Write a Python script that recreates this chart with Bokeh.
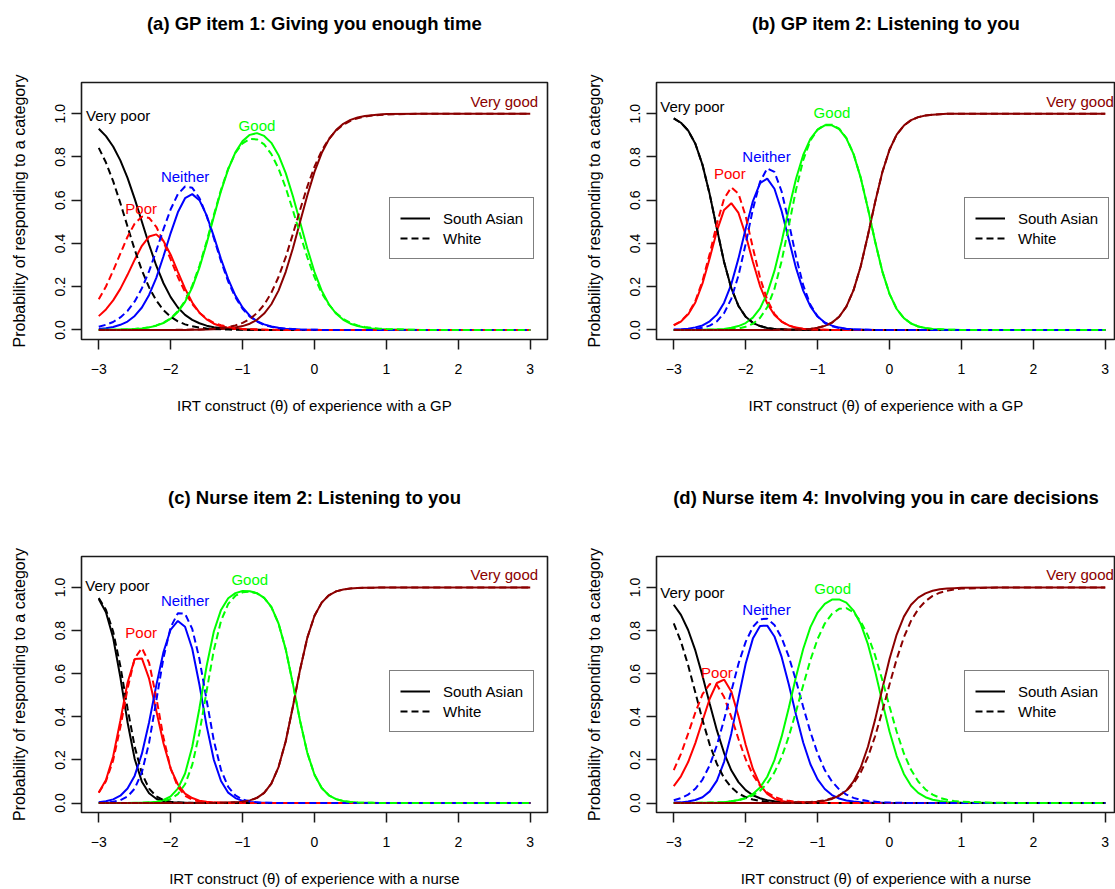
from bokeh.plotting import figure
from bokeh.layouts import column, row
from bokeh.models import (Range1d, FixedTicker, Legend, LegendItem, ColumnDataSource,
                          PrintfTickFormatter, Title)
from bokeh.embed import file_html
from bokeh.resources import INLINE
from bokeh.core.properties import value

FONT = "Liberation Sans"

THETA = [-3.0, -2.9, -2.8, -2.7, -2.6, -2.5, -2.4, -2.3, -2.2, -2.1,
         -2.0, -1.9, -1.8, -1.7, -1.6, -1.5, -1.4, -1.3, -1.2, -1.1,
         -1.0, -0.9, -0.8, -0.7, -0.6, -0.5, -0.4, -0.3, -0.2, -0.1,
         0.0, 0.1, 0.2, 0.3, 0.4, 0.5, 0.6, 0.7, 0.8, 0.9,
         1.0, 1.5, 2.0, 2.5, 3.0]

CATEGORIES = ["Very poor", "Poor", "Neither", "Good", "Very good"]
GROUPS = ["South Asian", "White"]
X_TICKS = [-3, -2, -1, 0, 1, 2, 3]
X_TICK_LABELS = ["\u22123", "\u22122", "\u22121", "0", "1", "2", "3"]
Y_TICKS = [0.0, 0.2, 0.4, 0.6, 0.8, 1.0]

# ---------------- (a) GP item 1 ----------------
A_SA_VP = [.930, .896, .848, .784, .703, .606, .500, .394, .297, .216,
           .152, .104, .070, .047, .031, .020, .013, .009, .006, .004,
           .002, .002, .001, 0, 0, 0, 0, 0, 0, 0,
           0, 0, 0, 0, 0, 0, 0, 0, 0, 0,
           0, 0, 0, 0, 0]
A_SA_POOR = [.064, .095, .137, .190, .255, .325, .389, .432, .442, .411,
             .348, .269, .191, .127, .080, .049, .029, .017, .009, .005,
             .003, .001, .001, 0, 0, 0, 0, 0, 0, 0,
             0, 0, 0, 0, 0, 0, 0, 0, 0, 0,
             0, 0, 0, 0, 0]
A_SA_NEITHER = [.005, .008, .014, .024, .039, .065, .104, .162, .241, .341,
                .448, .544, .609, .628, .600, .530, .433, .328, .235, .159,
                .104, .066, .041, .026, .016, .010, .006, .004, .002, .001,
                .001, 0, 0, 0, 0, 0, 0, 0, 0, 0,
                0, 0, 0, 0, 0]
A_SA_GOOD = [0, .001, .001, .002, .003, .004, .007, .012, .020, .032,
             .052, .083, .130, .197, .288, .400, .523, .642, .743, .821,
             .873, .902, .910, .897, .865, .808, .725, .618, .498, .377,
             .268, .182, .119, .076, .047, .029, .018, .011, .007, .004,
             .003, 0, 0, 0, 0]
A_SA_VGOOD = [0, 0, 0, 0, 0, 0, 0, 0, 0, 0,
              0, 0, 0, .001, .001, .002, .003, .004, .007, .011,
              .018, .029, .047, .076, .119, .182, .269, .378, .500, .622,
              .731, .818, .881, .924, .953, .971, .982, .989, .993, .996,
              .998, 1, 1, 1, 1]

A_W_VP = [.842, .774, .688, .587, .478, .371, .275, .197, .136, .092,
          .061, .040, .026, .017, .011, .007, .005, .003, .002, .001,
          .001, 0, 0, 0, 0, 0, 0, 0, 0, 0,
          0, 0, 0, 0, 0, 0, 0, 0, 0, 0,
          0, 0, 0, 0, 0]
A_W_POOR = [.142, .201, .274, .353, .431, .492, .524, .518, .477, .408,
            .326, .245, .175, .120, .080, .053, .033, .022, .014, .009,
            .005, .004, .003, .002, .001, .001, 0, 0, 0, 0,
            0, 0, 0, 0, 0, 0, 0, 0, 0, 0,
            0, 0, 0, 0, 0]
A_W_NEITHER = [.015, .024, .037, .058, .088, .132, .193, .272, .366, .466,
               .558, .628, .663, .657, .610, .527, .425, .318, .224, .151,
               .098, .062, .039, .023, .015, .008, .006, .004, .002, .001,
               .001, 0, 0, 0, 0, 0, 0, 0, 0, 0,
               0, 0, 0, 0, 0]
A_W_GOOD = [0, .001, .001, .002, .003, .005, .008, .013, .021, .034,
            .054, .087, .135, .205, .297, .409, .531, .648, .746, .818,
            .863, .883, .881, .858, .813, .746, .657, .553, .442, .336,
            .244, .171, .117, .078, .051, .033, .021, .014, .009, .006,
            .004, 0, 0, 0, 0]
A_W_VGOOD = [0, 0, 0, 0, 0, 0, 0, 0, 0, 0,
             0, .001, .001, .002, .002, .004, .006, .009, .014, .021,
             .033, .051, .078, .117, .172, .245, .337, .444, .556, .663,
             .755, .829, .883, .922, .949, .967, .979, .986, .991, .994,
             .996, 1, 1, 1, 1]

# ---------------- (b) GP item 2 ----------------
B_SA_VP = [.978, .958, .922, .861, .763, .627, .468, .314, .193, .111,
           .061, .033, .018, .009, .005, .003, .001, .001, 0, 0,
           0, 0, 0, 0, 0, 0, 0, 0, 0, 0,
           0, 0, 0, 0, 0, 0, 0, 0, 0, 0,
           0, 0, 0, 0, 0]
B_SA_POOR = [.021, .039, .072, .127, .215, .332, .458, .555, .586, .541,
             .439, .315, .203, .122, .069, .039, .021, .011, .006, .003,
             .002, .001, 0, 0, 0, 0, 0, 0, 0, 0,
             0, 0, 0, 0, 0, 0, 0, 0, 0, 0,
             0, 0, 0, 0, 0]
B_SA_NEITHER = [.002, .003, .006, .012, .021, .040, .071, .126, .211, .331,
                .468, .595, .679, .700, .653, .550, .418, .287, .182, .109,
                .062, .035, .020, .011, .006, .003, .002, .001, 0, 0,
                0, 0, 0, 0, 0, 0, 0, 0, 0, 0,
                0, 0, 0, 0, 0]
B_SA_GOOD = [0, 0, 0, 0, .001, .002, .003, .005, .010, .018,
             .032, .057, .100, .169, .273, .408, .559, .699, .809, .883,
             .926, .946, .946, .928, .886, .813, .703, .561, .409, .271,
             .167, .097, .055, .030, .016, .009, .005, .003, .001, .001,
             0, 0, 0, 0, 0]
B_SA_VGOOD = [0, 0, 0, 0, 0, 0, 0, 0, 0, 0,
              0, 0, 0, 0, 0, .001, .001, .002, .003, .005,
              .010, .019, .034, .061, .108, .184, .295, .438, .591, .729,
              .833, .903, .945, .970, .984, .991, .995, .997, .999, .999,
              1, 1, 1, 1, 1]

B_W_VP = [.978, .958, .922, .861, .763, .627, .468, .314, .193, .111,
          .061, .033, .018, .009, .005, .003, .001, .001, 0, 0,
          0, 0, 0, 0, 0, 0, 0, 0, 0, 0,
          0, 0, 0, 0, 0, 0, 0, 0, 0, 0,
          0, 0, 0, 0, 0]
B_W_POOR = [.022, .041, .075, .134, .227, .352, .491, .607, .659, .630,
            .526, .380, .241, .139, .074, .039, .020, .010, .005, .003,
            .001, .001, 0, 0, 0, 0, 0, 0, 0, 0,
            0, 0, 0, 0, 0, 0, 0, 0, 0, 0,
            0, 0, 0, 0, 0]
B_W_NEITHER = [.001, .001, .003, .005, .010, .020, .040, .078, .144, .252,
               .398, .558, .685, .747, .731, .640, .496, .340, .207, .116,
               .063, .032, .017, .009, .004, .002, .001, .001, 0, 0,
               0, 0, 0, 0, 0, 0, 0, 0, 0, 0,
               0, 0, 0, 0, 0]
B_W_GOOD = [0, 0, 0, 0, 0, .001, .001, .002, .004, .007,
            .015, .029, .056, .105, .190, .318, .482, .648, .785, .876,
            .926, .949, .949, .931, .888, .814, .704, .562, .409, .271,
            .167, .097, .055, .030, .016, .009, .005, .003, .001, .001,
            0, 0, 0, 0, 0]
B_W_VGOOD = [0, 0, 0, 0, 0, 0, 0, 0, 0, 0,
             0, 0, 0, 0, 0, .001, .001, .002, .003, .005,
             .010, .019, .034, .061, .108, .184, .295, .438, .591, .729,
             .833, .903, .945, .970, .984, .991, .995, .997, .999, .999,
             1, 1, 1, 1, 1]

# ---------------- (c) Nurse item 2 ----------------
C_SA_VP = [.947, .885, .767, .584, .375, .204, .099, .045, .020, .009,
           .004, .002, .001, 0, 0, 0, 0, 0, 0, 0,
           0, 0, 0, 0, 0, 0, 0, 0, 0, 0,
           0, 0, 0, 0, 0, 0, 0, 0, 0, 0,
           0, 0, 0, 0, 0]
C_SA_POOR = [.049, .107, .216, .382, .558, .668, .671, .577, .428, .277,
             .160, .086, .044, .023, .011, .006, .003, .001, .001, 0,
             0, 0, 0, 0, 0, 0, 0, 0, 0, 0,
             0, 0, 0, 0, 0, 0, 0, 0, 0, 0,
             0, 0, 0, 0, 0]
C_SA_NEITHER = [.004, .008, .017, .034, .067, .127, .229, .375, .546, .701,
                .805, .845, .818, .716, .549, .358, .201, .102, .048, .023,
                .010, .005, .002, .001, 0, 0, 0, 0, 0, 0,
                0, 0, 0, 0, 0, 0, 0, 0, 0, 0,
                0, 0, 0, 0, 0]
C_SA_GOOD = [0, 0, 0, 0, 0, .001, .001, .003, .006, .014,
             .031, .067, .137, .261, .440, .636, .796, .896, .950, .974,
             .984, .983, .974, .952, .910, .833, .713, .552, .380, .233,
             .131, .070, .036, .018, .009, .005, .002, .001, .001, 0,
             0, 0, 0, 0, 0]
C_SA_VGOOD = [0, 0, 0, 0, 0, 0, 0, 0, 0, 0,
              0, 0, 0, 0, 0, 0, 0, .001, .002, .003,
              .006, .012, .024, .047, .090, .167, .287, .448, .620, .767,
              .869, .930, .964, .982, .991, .996, .998, .999, .999, 1,
              1, 1, 1, 1, 1]

C_W_VP = [.951, .897, .796, .636, .440, .261, .137, .067, .031, .014,
          .006, .003, .001, .001, 0, 0, 0, 0, 0, 0,
          0, 0, 0, 0, 0, 0, 0, 0, 0, 0,
          0, 0, 0, 0, 0, 0, 0, 0, 0, 0,
          0, 0, 0, 0, 0]
C_W_POOR = [.048, .101, .198, .351, .530, .672, .719, .651, .490, .304,
            .160, .075, .034, .015, .007, .003, .001, .001, 0, 0,
            0, 0, 0, 0, 0, 0, 0, 0, 0, 0,
            0, 0, 0, 0, 0, 0, 0, 0, 0, 0,
            0, 0, 0, 0, 0]
C_W_NEITHER = [.001, .002, .006, .013, .030, .067, .143, .280, .475, .674,
               .816, .881, .878, .808, .668, .477, .290, .154, .075, .035,
               .016, .007, .003, .001, .001, 0, 0, 0, 0, 0,
               0, 0, 0, 0, 0, 0, 0, 0, 0, 0,
               0, 0, 0, 0, 0]
C_W_GOOD = [0, 0, 0, 0, 0, 0, .001, .002, .004, .008,
            .019, .041, .087, .177, .325, .520, .709, .845, .924, .962,
            .978, .981, .973, .952, .909, .833, .713, .552, .380, .233,
            .131, .070, .036, .018, .009, .005, .002, .001, .001, 0,
            0, 0, 0, 0, 0]
C_W_VGOOD = [0, 0, 0, 0, 0, 0, 0, 0, 0, 0,
             0, 0, 0, 0, 0, 0, 0, .001, .002, .003,
             .006, .012, .024, .047, .090, .167, .287, .448, .620, .767,
             .869, .930, .964, .982, .991, .996, .998, .999, .999, 1,
             1, 1, 1, 1, 1]

# ---------------- (d) Nurse item 4 ----------------
D_SA_VP = [.920, .873, .803, .708, .590, .461, .337, .232, .152, .097,
           .060, .036, .022, .013, .008, .005, .003, .002, .001, .001,
           0, 0, 0, 0, 0, 0, 0, 0, 0, 0,
           0, 0, 0, 0, 0, 0, 0, 0, 0, 0,
           0, 0, 0, 0, 0]
D_SA_POOR = [.078, .124, .190, .278, .382, .484, .557, .573, .518, .403,
             .270, .159, .084, .042, .020, .009, .004, .001, .001, 0,
             0, 0, 0, 0, 0, 0, 0, 0, 0, 0,
             0, 0, 0, 0, 0, 0, 0, 0, 0, 0,
             0, 0, 0, 0, 0]
D_SA_NEITHER = [.002, .003, .007, .014, .027, .054, .104, .191, .322, .487,
                .646, .763, .822, .823, .773, .678, .550, .410, .281, .180,
                .110, .065, .037, .021, .012, .007, .004, .002, .001, .001,
                0, 0, 0, 0, 0, 0, 0, 0, 0, 0,
                0, 0, 0, 0, 0]
D_SA_GOOD = [0, 0, 0, 0, .001, .001, .002, .004, .008, .014,
             .024, .042, .072, .122, .199, .308, .442, .586, .715, .816,
             .884, .924, .944, .945, .930, .893, .831, .737, .612, .469,
             .332, .218, .135, .080, .047, .027, .015, .009, .005, .003,
             .002, 0, 0, 0, 0]
D_SA_VGOOD = [0, 0, 0, 0, 0, 0, 0, 0, 0, 0,
              0, 0, 0, 0, 0, 0, .001, .001, .002, .003,
              .006, .011, .019, .034, .058, .100, .165, .261, .387, .530,
              .668, .782, .865, .920, .953, .973, .985, .992, .995, .997,
              .999, 1, 1, 1, 1]

D_W_VP = [.834, .749, .639, .513, .385, .271, .181, .116, .073, .044,
          .027, .016, .010, .006, .003, .002, .001, .001, 0, 0,
          0, 0, 0, 0, 0, 0, 0, 0, 0, 0,
          0, 0, 0, 0, 0, 0, 0, 0, 0, 0,
          0, 0, 0, 0, 0]
D_W_POOR = [.153, .228, .322, .420, .505, .552, .548, .492, .400, .297,
            .203, .131, .080, .048, .029, .017, .010, .006, .004, .002,
            .001, .001, 0, 0, 0, 0, 0, 0, 0, 0,
            0, 0, 0, 0, 0, 0, 0, 0, 0, 0,
            0, 0, 0, 0, 0]
D_W_NEITHER = [.013, .023, .039, .066, .109, .175, .268, .387, .519, .646,
               .748, .817, .853, .855, .826, .767, .679, .568, .446, .330,
               .230, .153, .100, .063, .039, .024, .015, .009, .006, .003,
               .002, .001, .001, 0, 0, 0, 0, 0, 0, 0,
               0, 0, 0, 0, 0]
D_W_GOOD = [0, 0, 0, .001, .001, .002, .003, .005, .008, .013,
            .022, .036, .057, .091, .142, .213, .309, .424, .547, .663,
            .761, .833, .878, .901, .904, .885, .843, .777, .685, .571,
            .448, .331, .230, .154, .100, .063, .039, .024, .015, .009,
            .006, .001, 0, 0, 0]
D_W_VGOOD = [0, 0, 0, 0, 0, 0, 0, 0, 0, 0,
             0, 0, 0, 0, 0, .001, .001, .002, .003, .005,
             .008, .013, .022, .036, .057, .091, .142, .214, .310, .426,
             .550, .668, .769, .846, .900, .937, .961, .976, .985, .991,
             .995, 1, 1, 1, 1]

# ---------------- styling / placement (not data) ----------------
COLORS = ["#000000", "#FF0000", "#0000FF", "#00FF00", "#8B0000"]
DASH = "7 4"

PANELS = [
    dict(title="(a) GP item 1: Giving you enough time",
         xlabel="IRT construct (\u03b8) of experience with a GP",
         sa=[A_SA_VP, A_SA_POOR, A_SA_NEITHER, A_SA_GOOD, A_SA_VGOOD],
         w=[A_W_VP, A_W_POOR, A_W_NEITHER, A_W_GOOD, A_W_VGOOD],
         lab_x=[-2.73, -2.41, -1.80, -0.80, 2.64],
         lab_y=[0.99, 0.56, 0.71, 0.946, 1.058]),
    dict(title="(b) GP item 2: Listening to you",
         xlabel="IRT construct (\u03b8) of experience with a GP",
         sa=[B_SA_VP, B_SA_POOR, B_SA_NEITHER, B_SA_GOOD, B_SA_VGOOD],
         w=[B_W_VP, B_W_POOR, B_W_NEITHER, B_W_GOOD, B_W_VGOOD],
         lab_x=[-2.74, -2.22, -1.71, -0.80, 2.65],
         lab_y=[1.035, 0.723, 0.803, 1.005, 1.058]),
    dict(title="(c) Nurse item 2: Listening to you",
         xlabel="IRT construct (\u03b8) of experience with a nurse",
         sa=[C_SA_VP, C_SA_POOR, C_SA_NEITHER, C_SA_GOOD, C_SA_VGOOD],
         w=[C_W_VP, C_W_POOR, C_W_NEITHER, C_W_GOOD, C_W_VGOOD],
         lab_x=[-2.74, -2.41, -1.80, -0.90, 2.64],
         lab_y=[1.008, 0.789, 0.938, 1.035, 1.06]),
    dict(title="(d) Nurse item 4: Involving you in care decisions",
         xlabel="IRT construct (\u03b8) of experience with a nurse",
         sa=[D_SA_VP, D_SA_POOR, D_SA_NEITHER, D_SA_GOOD, D_SA_VGOOD],
         w=[D_W_VP, D_W_POOR, D_W_NEITHER, D_W_GOOD, D_W_VGOOD],
         lab_x=[-2.74, -2.40, -1.71, -0.79, 2.65],
         lab_y=[0.977, 0.608, 0.90, 0.995, 1.06]),
]

FRAME_W = 466


def make_panel(spec, width, height, border_right, border_bottom, x_end):
    p = figure(width=width, height=height, title=None,
               x_range=Range1d(-3.24, x_end), y_range=Range1d(-0.044, 1.144),
               output_backend="svg", toolbar_location=None,
               min_border_left=81, min_border_right=border_right,
               min_border_top=82, min_border_bottom=border_bottom,
               background_fill_color="white", border_fill_color="white")
    p.xgrid.visible = False
    p.ygrid.visible = False
    p.outline_line_color = "#1a1a1a"
    p.outline_line_width = 1.6

    # blank (white, non-breaking space) spacer next to the plot box, real title further out
    p.add_layout(Title(text="\u00a0", text_font=FONT, text_font_size="10px",
                       text_color="white", standoff=36), "above")
    p.add_layout(Title(text=spec["title"], align="center", standoff=0,
                       text_font=FONT, text_font_size="18.5px",
                       text_font_style="bold", text_color="#000000"), "above")

    xa = p.xaxis[0]
    xa.ticker = FixedTicker(ticks=X_TICKS)
    xa.major_label_overrides = {t: s for t, s in zip(X_TICKS, X_TICK_LABELS)}
    ya = p.yaxis[0]
    ya.ticker = FixedTicker(ticks=Y_TICKS)
    ya.formatter = PrintfTickFormatter(format="%.1f")
    ya.major_label_orientation = "vertical"
    for ax in (xa, ya):
        ax.axis_line_color = None
        ax.major_tick_in = 0
        ax.major_tick_out = 10
        ax.major_tick_line_color = "#1a1a1a"
        ax.major_tick_line_width = 1.5
        ax.minor_tick_line_color = None
        ax.major_label_text_font = FONT
        ax.major_label_text_font_size = "14px"
        ax.major_label_text_color = "#000000"
        ax.axis_label_text_font = FONT
        ax.axis_label_text_font_style = "normal"
        ax.axis_label_text_color = "#000000"
    xa.major_label_standoff = 14
    xa.axis_label = spec["xlabel"]
    xa.axis_label_text_font_size = "15px"
    xa.axis_label_standoff = 20
    ya.major_label_standoff = 6
    ya.axis_label = "Probability of responding to a category"
    ya.axis_label_text_font_size = "16px"
    ya.axis_label_standoff = 25

    solid = []
    for vals, col in zip(spec["sa"], COLORS):
        solid.append(p.line(THETA, vals, line_color=col, line_width=2))
    dashed = []
    for vals, col in zip(spec["w"], COLORS):
        dashed.append(p.line(THETA, vals, line_color=col, line_width=2, line_dash=DASH))

    src = ColumnDataSource(dict(x=spec["lab_x"], y=spec["lab_y"], t=CATEGORIES, c=COLORS))
    p.text(x="x", y="y", text="t", text_color="c", source=src,
           text_font=value(FONT), text_font_size=value("15px"),
           text_align="center", text_baseline="middle")

    leg = Legend(items=[LegendItem(label=GROUPS[0], renderers=[solid[0]]),
                        LegendItem(label=GROUPS[1], renderers=[dashed[0]])],
                 location=(308, 80), margin=0, padding=10, spacing=0,
                 glyph_width=30, glyph_height=20, label_height=20,
                 label_standoff=13, label_text_font=FONT,
                 label_text_font_size="15px", label_text_color="#000000",
                 border_line_color="#000000", border_line_width=1.5,
                 background_fill_color="white", background_fill_alpha=1.0)
    p.add_layout(leg)
    return p


LEFT_W, RIGHT_W = 575, 540
TOP_H, BOT_H = 474, 415
right_end = -3.24 + (RIGHT_W - 81) * 6.48 / FRAME_W

pa = make_panel(PANELS[0], LEFT_W, TOP_H, 28, 135, 3.24)
pb = make_panel(PANELS[1], RIGHT_W, TOP_H, 0, 135, right_end)
pc = make_panel(PANELS[2], LEFT_W, BOT_H, 28, 76, 3.24)
pd = make_panel(PANELS[3], RIGHT_W, BOT_H, 0, 76, right_end)

layout = column(row(pa, pb, spacing=0), row(pc, pd, spacing=0), spacing=0)

open("out.html", "w").write(file_html(layout, INLINE))
